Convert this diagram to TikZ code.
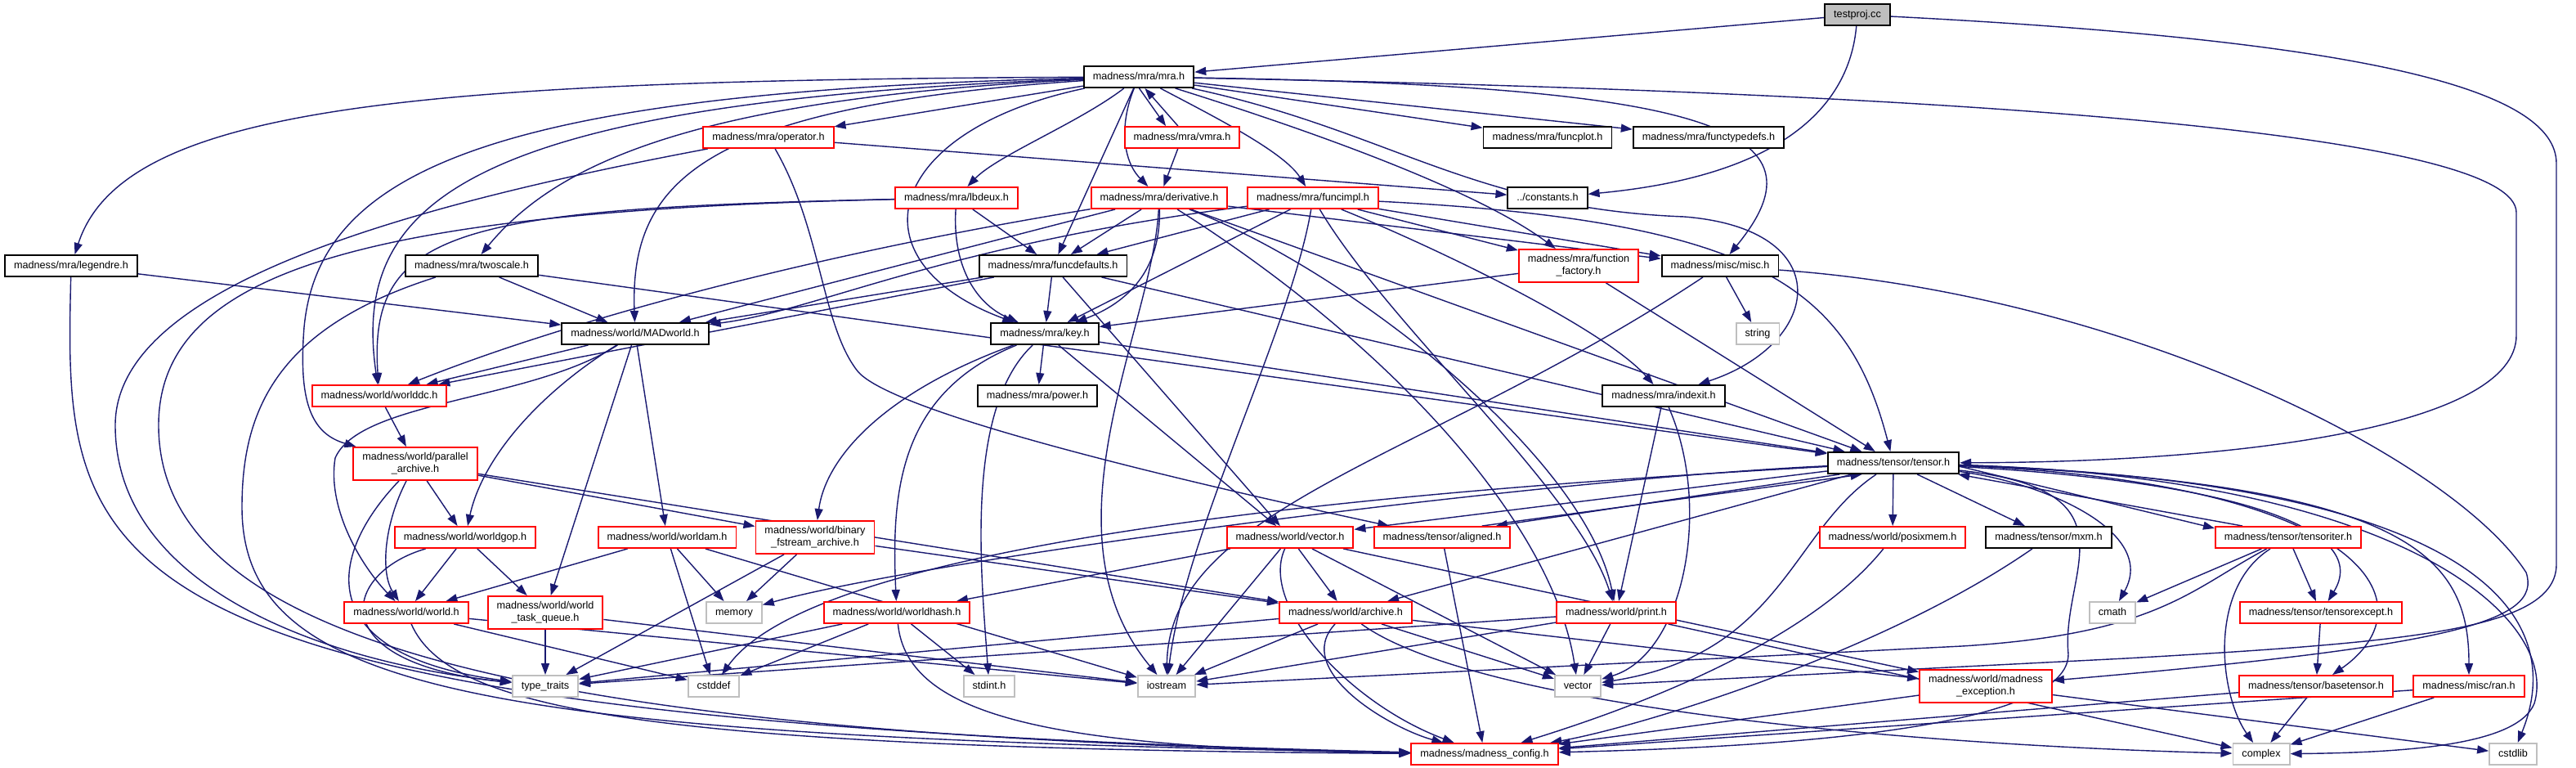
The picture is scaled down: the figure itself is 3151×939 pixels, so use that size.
\documentclass[tikz,border=0pt]{standalone}
\usepackage{fontspec}
\setmainfont{Liberation Sans}
\usetikzlibrary{arrows.meta,backgrounds}
\definecolor{edgeblue}{HTML}{191970}
\definecolor{sysgray}{HTML}{BFBFBF}
\tikzset{
  hdr/.style={draw=black, line width=1.1pt, fill=white, minimum height=0.52cm,
    inner xsep=0.22cm, inner ysep=0pt, text height=5.3pt, text depth=1.6pt,
    font=\fontsize{7.2}{8.6}\selectfont},
  hdrtwo/.style={draw=black, line width=1.1pt, fill=white, minimum height=0.8cm,
    inner xsep=0.22cm, inner ysep=0pt, align=center, font=\fontsize{7.2}{8.6}\selectfont},
  hdrred/.style={hdr, draw=red},
  hdrredtwo/.style={hdrtwo, draw=red},
  syshdr/.style={hdr, draw=sysgray},
  dep/.style={draw=edgeblue, line width=0.8pt, -{Triangle[length=0.28cm,width=0.2cm]}},
}
\begin{document}
\begin{tikzpicture}[x=0.02cm,y=-0.02cm]
\useasboundingbox (0,0) rectangle (3151,939);
% headers, row by row
\node[hdr, fill=sysgray] (testproj) at (2272,18) {testproj.cc};
\node[hdr] (mra) at (1393,94) {madness/mra/mra.h};
\node[hdrred] (operator) at (940,168) {madness/mra/operator.h};
\node[hdrred] (vmra) at (1446,168) {madness/mra/vmra.h};
\node[hdr] (funcplot) at (1893,168) {madness/mra/funcplot.h};
\node[hdr] (functypedefs) at (2090,168) {madness/mra/functypedefs.h};
\node[hdrred] (lbdeux) at (1170,242) {madness/mra/lbdeux.h};
\node[hdrred] (derivative) at (1418,242) {madness/mra/derivative.h};
\node[hdrred] (funcimpl) at (1606,242) {madness/mra/funcimpl.h};
\node[hdr] (constants) at (1893,242) {../constants.h};
\node[hdr] (legendre) at (87,325) {madness/mra/legendre.h};
\node[hdr] (twoscale) at (577,325) {madness/mra/twoscale.h};
\node[hdr] (funcdefaults) at (1288,325) {madness/mra/funcdefaults.h};
\node[hdrredtwo] (funcfactory) at (1931,325) {madness/mra/function\\\_factory.h};
\node[hdr] (misc) at (2104,325) {madness/misc/misc.h};
\node[hdr] (madworld) at (777,408) {madness/world/MADworld.h};
\node[hdr] (key) at (1278,408) {madness/mra/key.h};
\node[syshdr] (string) at (2150,408) {string};
\node[hdrred] (worlddc) at (464,484) {madness/world/worlddc.h};
\node[hdr] (power) at (1269,484) {madness/mra/power.h};
\node[hdr] (indexit) at (2035,484) {madness/mra/indexit.h};
\node[hdrredtwo] (parchive) at (508,567) {madness/world/parallel\\\_archive.h};
\node[hdr] (tensor) at (2316,566) {madness/tensor/tensor.h};
\node[hdrred] (worldgop) at (569,657) {madness/world/worldgop.h};
\node[hdrred] (worldam) at (816,657) {madness/world/worldam.h};
\node[hdrredtwo] (binarch) at (997,657) {madness/world/binary\\\_fstream\_archive.h};
\node[hdrred] (wvector) at (1578,657) {madness/world/vector.h};
\node[hdrred] (aligned) at (1764,657) {madness/tensor/aligned.h};
\node[hdrred] (posixmem) at (2315,657) {madness/world/posixmem.h};
\node[hdr] (mxm) at (2506,657) {madness/tensor/mxm.h};
\node[hdrred] (tensoriter) at (2799,657) {madness/tensor/tensoriter.h};
\node[hdrred] (world) at (497,749) {madness/world/world.h};
\node[hdrredtwo] (taskq) at (667,749) {madness/world/world\\\_task\_queue.h};
\node[syshdr] (memory) at (898,749) {memory};
\node[hdrred] (worldhash) at (1097,749) {madness/world/worldhash.h};
\node[hdrred] (archive) at (1646,749) {madness/world/archive.h};
\node[hdrred] (print) at (1977,749) {madness/world/print.h};
\node[syshdr] (cmath) at (2584,749) {cmath};
\node[hdrred] (tensorexcept) at (2839,749) {madness/tensor/tensorexcept.h};
\node[syshdr] (typetraits) at (667,839) {type\_traits};
\node[syshdr] (cstddef) at (873,839) {cstddef};
\node[syshdr] (stdint) at (1210,839) {stdint.h};
\node[syshdr] (iostream) at (1427,839) {iostream};
\node[syshdr] (stdvector) at (1930,839) {vector};
\node[hdrredtwo] (mexcept) at (2429,839) {madness/world/madness\\\_exception.h};
\node[hdrred] (basetensor) at (2833,839) {madness/tensor/basetensor.h};
\node[hdrred] (ran) at (3020,839) {madness/misc/ran.h};
\node[hdrred] (config) at (1816,922) {madness/madness\_config.h};
\node[syshdr] (complex) at (2766,922) {complex};
\node[syshdr] (cstdlib) at (3074,922) {cstdlib};
% include edges
\begin{scope}[on background layer]
\draw[dep] (testproj) -- (mra);
\draw[dep] (testproj) .. controls (2262,130) and (2180,215) .. (constants);
\draw[dep] (testproj) .. controls (2900,50) and (3127,110) .. (3127,200) -- (3127,690) .. controls (3127,770) and (2950,785) .. (2600,805) -- (stdvector);
\draw[dep] (mra) .. controls (500,98) and (150,130) .. (legendre);
\draw[dep] (mra) -- (operator);
\draw[dep] (mra.-88) -- (vmra.145);
\draw[dep] (vmra.110) -- (mra.-62);
\draw[dep] (mra) .. controls (1320,150) and (1220,190) .. (lbdeux);
\draw[dep] (mra) .. controls (1370,150) and (1372,195) .. (derivative);
\draw[dep] (mra) .. controls (1480,140) and (1570,185) .. (funcimpl);
\draw[dep] (mra) -- (funcplot);
\draw[dep] (mra) -- (functypedefs);
\draw[dep] (mra) -- (funcdefaults);
\draw[dep] (mra) .. controls (1080,160) and (1040,320) .. (key);
\draw[dep] (mra) .. controls (850,120) and (680,200) .. (twoscale);
\draw[dep] (mra) .. controls (860,130) and (770,220) .. (madworld);
\draw[dep] (mra) .. controls (560,125) and (430,250) .. (worlddc);
\draw[dep] (mra) .. controls (600,112) and (390,210) .. (372,400) .. controls (365,490) and (380,530) .. (parchive);
\draw[dep] (mra) .. controls (1620,165) and (1810,235) .. (funcfactory);
\draw[dep] (mra) .. controls (2100,105) and (2240,160) .. (misc);
\draw[dep] (mra) .. controls (2500,115) and (3078,170) .. (3078,260) -- (3078,410) .. controls (3078,520) and (2750,565) .. (tensor);
\draw[dep] (mra) .. controls (1700,160) and (1800,255) .. (2060,265) .. controls (2250,280) and (2230,420) .. (indexit);
\draw[dep] (vmra) -- (derivative);
\draw[dep] (operator) -- (constants);
\draw[dep] (operator) .. controls (450,260) and (141,360) .. (141,520) .. controls (141,720) and (400,810) .. (typetraits);
\draw[dep] (operator) .. controls (1005,280) and (1005,400) .. (1050,455) .. controls (1100,510) and (1500,600) .. (aligned);
\draw[dep] (lbdeux) -- (funcdefaults);
\draw[dep] (lbdeux) .. controls (1165,320) and (1190,370) .. (key);
\draw[dep] (lbdeux) .. controls (560,255) and (450,280) .. (worlddc);
\draw[dep] (lbdeux) .. controls (450,258) and (194,330) .. (194,520) .. controls (194,800) and (700,900) .. (config);
\draw[dep] (derivative) -- (funcdefaults);
\draw[dep] (derivative) .. controls (1420,330) and (1380,370) .. (key);
\draw[dep] (derivative) -- (madworld);
\draw[dep] (derivative) .. controls (1000,310) and (700,390) .. (worlddc);
\draw[dep] (derivative) -- (misc);
\draw[dep] (derivative) -- (tensor);
\draw[dep] (derivative) .. controls (1410,400) and (1270,650) .. (iostream);
\draw[dep] (derivative) .. controls (1700,420) and (1900,640) .. (stdvector);
\draw[dep] (derivative) .. controls (1650,330) and (1940,560) .. (print);
\draw[dep] (funcimpl) -- (funcdefaults);
\draw[dep] (funcimpl) -- (key);
\draw[dep] (funcimpl) .. controls (1150,300) and (1000,380) .. (madworld);
\draw[dep] (funcimpl) -- (misc);
\draw[dep] (funcimpl) -- (funcfactory);
\draw[dep] (funcimpl) .. controls (1750,300) and (1960,400) .. (indexit);
\draw[dep] (funcimpl) .. controls (2150,270) and (2260,350) .. (tensor);
\draw[dep] (funcimpl) .. controls (1700,400) and (1930,600) .. (print);
\draw[dep] (funcimpl) .. controls (1580,400) and (1450,650) .. (iostream);
\draw[dep] (funcfactory) -- (key);
\draw[dep] (funcfactory) -- (tensor);
\draw[dep] (misc) -- (string);
\draw[dep] (misc) .. controls (1750,560) and (1430,620) .. (iostream);
\draw[dep] (misc) .. controls (2600,360) and (3000,560) .. (3090,700) .. controls (3110,760) and (3000,790) .. (mexcept);
\draw[dep] (indexit) -- (print);
\draw[dep] (indexit) .. controls (2095,620) and (2060,800) .. (stdvector);
\draw[dep] (funcdefaults) -- (madworld);
\draw[dep] (funcdefaults) -- (worlddc);
\draw[dep] (funcdefaults) -- (key);
\draw[dep] (funcdefaults) -- (tensor);
\draw[dep] (funcdefaults) -- (wvector);
\draw[dep] (twoscale) -- (madworld);
\draw[dep] (twoscale) -- (tensor);
\draw[dep] (twoscale) .. controls (340,400) and (296,500) .. (296,620) .. controls (296,850) and (600,900) .. (config);
\draw[dep] (legendre) -- (madworld);
\draw[dep] (legendre) .. controls (78,700) and (80,880) .. (config);
\draw[dep] (madworld) -- (worlddc);
\draw[dep] (madworld) .. controls (660,480) and (590,560) .. (worldgop);
\draw[dep] (madworld) .. controls (650,490) and (440,490) .. (410,560) .. controls (400,620) and (440,690) .. (world);
\draw[dep] (madworld) -- (taskq);
\draw[dep] (madworld) -- (worldam);
\draw[dep] (worlddc) -- (parchive);
\draw[dep] (parchive) -- (worldgop);
\draw[dep] (parchive) .. controls (470,640) and (465,700) .. (world);
\draw[dep] (parchive) .. controls (400,680) and (380,800) .. (typetraits);
\draw[dep] (parchive) -- (binarch);
\draw[dep] (parchive) -- (archive);
\draw[dep] (worldgop) -- (world);
\draw[dep] (worldgop) -- (taskq);
\draw[dep] (worldgop) .. controls (420,700) and (390,810) .. (typetraits);
\draw[dep] (worldam) -- (world);
\draw[dep] (worldam) -- (memory);
\draw[dep] (worldam) -- (cstddef);
\draw[dep] (worldam) -- (iostream);
\draw[dep] (binarch) -- (memory);
\draw[dep] (binarch) -- (typetraits);
\draw[dep] (binarch) -- (archive);
\draw[dep] (world) .. controls (550,870) and (800,915) .. (config);
\draw[dep] (world) -- (cstddef);
\draw[dep] (world) -- (iostream);
\draw[dep] (taskq) -- (typetraits);
\draw[dep] (taskq) -- (iostream);
\draw[dep] (worldhash) -- (typetraits);
\draw[dep] (worldhash) -- (cstddef);
\draw[dep] (worldhash) -- (stdint);
\draw[dep] (worldhash) .. controls (1110,880) and (1300,915) .. (config);
\draw[dep] (key) -- (power);
\draw[dep] (key) .. controls (1080,480) and (1010,560) .. (binarch);
\draw[dep] (key) .. controls (1100,480) and (1090,600) .. (worldhash);
\draw[dep] (key) .. controls (1180,500) and (1200,700) .. (stdint);
\draw[dep] (key) -- (wvector);
\draw[dep] (key) -- (tensor);
\draw[dep] (wvector) -- (worldhash);
\draw[dep] (wvector) -- (archive);
\draw[dep] (wvector) -- (iostream);
\draw[dep] (wvector) -- (stdvector);
\draw[dep] (wvector) -- (mexcept);
\draw[dep] (wvector) .. controls (1540,740) and (1650,860) .. (config);
\draw[dep] (tensor) -- (posixmem);
\draw[dep] (tensor) -- (mxm);
\draw[dep] (tensor.-3) -- (tensoriter.173);
\draw[dep] (tensoriter.166) -- (tensor.-10);
\draw[dep] (tensor.-168) -- (aligned.12);
\draw[dep] (aligned.16) -- (tensor.-160);
\draw[dep] (tensor) -- (archive);
\draw[dep] (tensor) .. controls (1900,585) and (1150,680) .. (memory);
\draw[dep] (tensor) .. controls (1700,600) and (1000,660) .. (cstddef);
\draw[dep] (tensor) -- (wvector);
\draw[dep] (tensor) .. controls (2500,590) and (2640,650) .. (cmath);
\draw[dep] (tensor) .. controls (2750,590) and (2900,650) .. (tensorexcept);
\draw[dep] (tensor) .. controls (2900,590) and (2975,740) .. (basetensor);
\draw[dep] (tensor) .. controls (2950,590) and (3020,680) .. (ran);
\draw[dep] (tensor) .. controls (3050,590) and (3140,760) .. (cstdlib);
\draw[dep] (tensor) .. controls (2950,585) and (3130,760) .. (3100,860) .. controls (3080,910) and (2950,920) .. (complex);
\draw[dep] (tensor) .. controls (2190,650) and (2180,800) .. (stdvector);
\draw[dep] (tensor) .. controls (2620,600) and (2520,700) .. (2530,800) .. controls (2530,900) and (2100,915) .. (config);
\draw[dep] (aligned) -- (config);
\draw[dep] (posixmem) .. controls (2200,800) and (1950,880) .. (config);
\draw[dep] (mxm) .. controls (2300,800) and (2000,890) .. (config);
\draw[dep] (tensoriter) -- (cmath);
\draw[dep] (tensoriter) -- (tensorexcept);
\draw[dep] (tensoriter) .. controls (2700,720) and (2715,850) .. (complex);
\draw[dep] (tensoriter) .. controls (2680,720) and (2640,775) .. (2400,790) -- (iostream);
\draw[dep] (tensorexcept) -- (basetensor);
\draw[dep] (basetensor) -- (complex);
\draw[dep] (basetensor) -- (config);
\draw[dep] (ran) -- (complex);
\draw[dep] (ran) -- (config);
\draw[dep] (mexcept) -- (config);
\draw[dep] (mexcept) -- (cstdlib);
\draw[dep] (archive) -- (typetraits);
\draw[dep] (archive) -- (iostream);
\draw[dep] (archive) -- (stdvector);
\draw[dep] (archive) .. controls (1580,820) and (1700,890) .. (config);
\draw[dep] (archive) .. controls (1800,860) and (2300,910) .. (complex);
\draw[dep] (archive) -- (mexcept);
\draw[dep] (print) -- (typetraits);
\draw[dep] (print) -- (iostream);
\draw[dep] (print) -- (stdvector);
\draw[dep] (print) -- (complex);
\end{scope}
\end{tikzpicture}
\end{document}
